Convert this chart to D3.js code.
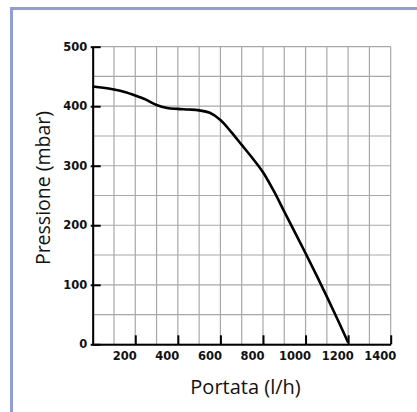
<!DOCTYPE html>
<html>
<head>
<meta charset="utf-8">
<script src="https://cdn.jsdelivr.net/npm/d3@7"></script>
<style>
  html, body { margin: 0; padding: 0; background: #fff; }
  svg { display: block; }
</style>
</head>
<body>
<svg id="chart" width="417" height="412"></svg>
<script>
// Data
const flow = [0, 50, 100, 150, 200, 250, 300, 350, 400, 450, 500, 550, 600, 650, 700, 750, 800, 850, 900, 950, 1000, 1050, 1100, 1150, 1200];
const pressure = [433, 431, 428, 424, 418, 411, 402, 397, 395.5, 394.5, 393, 389, 377, 357, 335, 313, 289, 258, 223, 188, 153, 117, 80, 42, 3];
const xTicks = [200, 400, 600, 800, 1000, 1200, 1400];
const yTicks = [0, 100, 200, 300, 400, 500];
const xGrid = d3.range(0, 1401, 100);
const yGrid = d3.range(0, 501, 50);
const xTitle = "Portata (l/h)";
const yTitle = "Pressione (mbar)";

const svg = d3.select("#chart");

// frame
svg.append("path")
  .attr("d", "M11.5,430 V8.5 H430")
  .attr("fill", "none")
  .attr("stroke", "#8f9ed9")
  .attr("stroke-width", 3);

const x = d3.scaleLinear().domain([0, 1400]).range([92.7, 390.7]);
const y = d3.scaleLinear().domain([0, 500]).range([344.3, 46.7]);

const g = svg.append("g");

// grid
g.selectAll("line.vg").data(xGrid).join("line")
  .attr("class", "vg")
  .attr("x1", d => x(d)).attr("x2", d => x(d))
  .attr("y1", y(0)).attr("y2", y(500))
  .attr("stroke", "#a8a8a8").attr("stroke-width", 1.2);
g.selectAll("line.hg").data(yGrid).join("line")
  .attr("class", "hg")
  .attr("y1", d => y(d)).attr("y2", d => y(d))
  .attr("x1", x(0)).attr("x2", x(1400))
  .attr("stroke", "#a8a8a8").attr("stroke-width", 1.2);

// axes
const xAxis = d3.axisBottom(x).tickValues(xTicks).tickFormat(d3.format("d"))
  .tickSizeInner(-9).tickSizeOuter(0).tickPadding(0);
const ax = g.append("g").attr("transform", `translate(0,${y(0)})`).call(xAxis);
ax.select(".domain").attr("stroke", "#000").attr("stroke-width", 2);
ax.selectAll(".tick line").attr("stroke", "#000").attr("stroke-width", 2);
ax.selectAll(".tick text")
  .attr("dx", -11).attr("y", 16)
  .attr("dy", 0)
  .attr("font-family", "DejaVu Sans").attr("font-weight", "bold").attr("font-size", 11.5)
  .attr("fill", "#111");

const yAxis = d3.axisLeft(y).tickValues(yTicks).tickFormat(d3.format("d"))
  .tickSizeInner(-8).tickSizeOuter(0).tickPadding(0);
const ay = g.append("g").attr("transform", `translate(${x(0)},0)`).call(yAxis);
ay.select(".domain").attr("stroke", "#000").attr("stroke-width", 2);
ay.selectAll(".tick line").attr("stroke", "#000").attr("stroke-width", 2).attr("x1", -2);
ay.selectAll(".tick text")
  .attr("x", -5.5)
  .attr("font-family", "DejaVu Sans").attr("font-weight", "bold").attr("font-size", 11.5)
  .attr("fill", "#111");

// curve
const pts = flow.map((f, i) => [f, pressure[i]]);
g.append("path")
  .datum(pts)
  .attr("fill", "none")
  .attr("stroke", "#000")
  .attr("stroke-width", 2.6)
  .attr("stroke-linejoin", "round")
  .attr("d", d3.line().x(d => x(d[0])).y(d => y(d[1])).curve(d3.curveCatmullRom.alpha(0.5)));

// titles
svg.append("text")
  .attr("x", 245.5).attr("y", 394)
  .attr("text-anchor", "middle")
  .attr("font-family", "Open Sans").attr("font-size", 20)
  .attr("fill", "#111")
  .text(xTitle);
svg.append("text")
  .attr("transform", "translate(49.5,188) rotate(-90)")
  .attr("text-anchor", "middle")
  .attr("font-family", "Open Sans").attr("font-size", 19.5)
  .attr("fill", "#111")
  .text(yTitle);
</script>
</body>
</html>
